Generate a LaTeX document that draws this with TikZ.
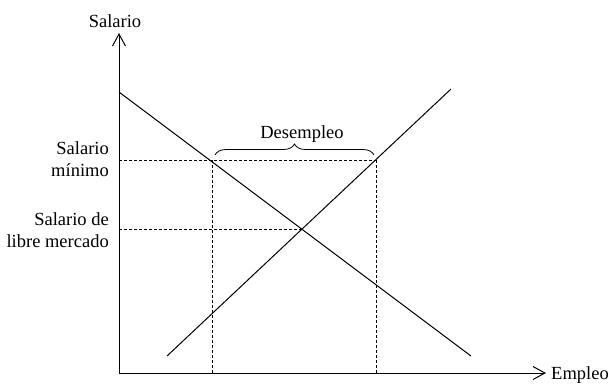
\documentclass[tikz,border=0pt]{standalone}
\usepackage{fontspec}
\setmainfont{Liberation Serif}
\usetikzlibrary{arrows.meta,decorations.pathreplacing}
\begin{document}
\begin{tikzpicture}[x=1pt,y=-1pt,
  axis/.style={line width=1pt,-{Straight Barb[length=12pt,width=13pt,line width=1pt]}},
  curve/.style={line width=1pt},
  guide/.style={line width=0.8pt,dash pattern=on 3pt off 2pt},
  lbl/.style={font=\fontsize{18.5}{22}\selectfont,inner sep=0pt}]
\useasboundingbox (0,0) rectangle (613,384);
% axes
\coordinate (O) at (119,373);
\coordinate (ytop) at (119,33);
\coordinate (xend) at (546,373);
\draw[axis] (O) -- (ytop);
\draw[axis] (O) -- (xend);
% curves
\coordinate (d1) at (119,92);
\coordinate (d2) at (471,356);
\coordinate (s1) at (167,356);
\coordinate (s2) at (451,89);
\draw[curve] (d1) -- (d2);
\draw[curve] (s1) -- (s2);
% guides
\coordinate (wmin) at (119,160);
\coordinate (pA) at (212,160);
\coordinate (pB) at (376,160);
\coordinate (pAb) at (212,373);
\coordinate (pBb) at (376,373);
\coordinate (wfree) at (119,229);
\coordinate (eq) at (302,229);
\draw[guide] (wmin) -- (pB);
\draw[guide] (pA) -- (pAb);
\draw[guide] (pB) -- (pBb);
\draw[guide] (wfree) -- (eq);
% brace
\coordinate (bL) at (215,155);
\coordinate (bR) at (374,155);
\draw[line width=0.8pt,decorate,decoration={brace,amplitude=11pt}] (bL) -- (bR);
% labels
\node[lbl,anchor=base] (ylab) at (115,27) {Salario};
\node[lbl,anchor=base west] (xlab) at (551,379) {Empleo};
\node[lbl,anchor=base] (des) at (302,138) {Desempleo};
\node[lbl,anchor=east,align=right] (lmin) at (109,159) {Salario\\mínimo};
\node[lbl,anchor=east,align=right] (lfree) at (109,230) {Salario de\\libre mercado};
\end{tikzpicture}
\end{document}
